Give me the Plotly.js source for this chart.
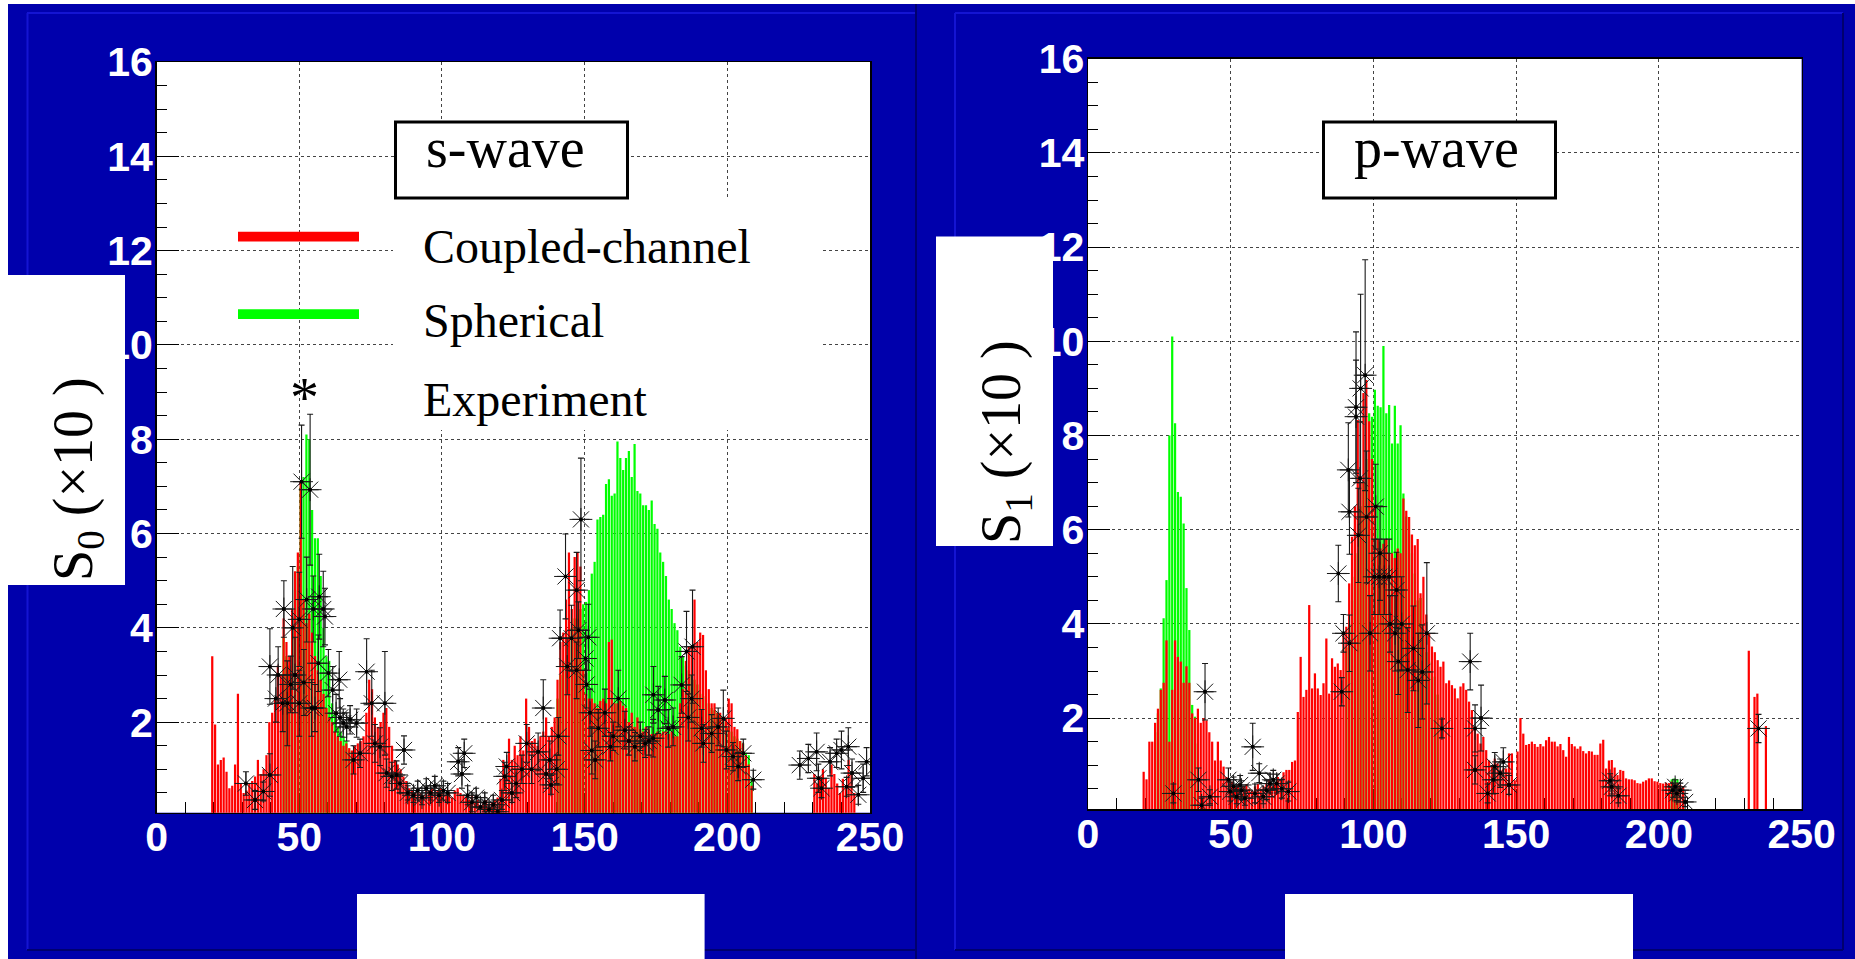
<!DOCTYPE html>
<html><head><meta charset="utf-8">
<script src="https://cdn.plot.ly/plotly-3.0.1.min.js"></script>
<style>html,body{margin:0;padding:0;background:#fff;overflow:hidden}#chart{width:1855px;height:959px}</style>
</head><body><div id="chart"></div>
<script>
// ---------------- DATA ----------------
// Histogram bins are 1 unit wide; each series lists bin contents starting at bin low edge "start".
const xTickVals = [0, 50, 100, 150, 200, 250];
const xTickText = ['0', '50', '100', '150', '200', '250'];
const yTickVals = [2, 4, 6, 8, 10, 12, 14, 16];
const yTickText = ['2', '4', '6', '8', '10', '12', '14', '16'];

// ---- s-wave (left panel) ----
const sCoupledStart = 19;
const sCoupled = [3.4,
 1.95,1.1,1.2,1.25,0.95,0.6,0.65,1.1,2.6,0.7,
 0.5,0.55,0.7,0.75,0.85,1.2,0.9,1.0,1.3,2.0,
 2.2,2.5,3.2,3.0,4.2,3.7,3.4,4.4,5.2,5.6,
 7.1,4.6,4.1,4.3,3.9,3.4,3.1,2.9,2.6,2.3,
 2.1,2.0,1.8,1.7,1.6,1.5,1.55,1.45,1.4,1.5,
 1.55,1.6,1.7,2.2,2.9,2.7,2.1,1.9,2.0,2.2,
 2.3,1.9,1.5,1.2,1.1,1.0,0.85,0.75,0.6,0.55,
 0.5,0.55,0.5,0.45,0.6,0.55,0.6,0.5,0.55,0.6,
 0.5,0.45,0.5,0.4,0.55,0.6,0.5,0.45,0.4,0.35,
 0.45,0.3,0.35,0.25,0.3,0.35,0.25,0.3,0.35,0.4,
 0.8,1.2,0.9,1.65,1.2,1.5,1.3,1.7,1.4,2.5,
 1.9,1.6,1.65,1.5,1.7,1.8,2.1,1.7,1.9,2.1,
 2.9,3.7,3.9,4.6,5.6,4.4,5.5,5.6,5.3,3.1,
 2.6,2.5,2.5,2.4,2.3,2.45,2.5,2.4,3.7,3.75,
 2.4,2.4,2.45,2.35,2.3,2.0,2.2,1.9,2.1,1.85,
 1.8,1.9,1.85,1.75,1.75,1.8,1.75,1.8,1.8,1.75,
 1.8,1.7,1.7,2.4,2.7,3.3,3.6,3.6,4.6,3.7,
 3.9,3.85,3.1,2.7,2.4,2.4,2.2,2.2,2.1,2.1,
 2.5,2.4,1.9,1.85,1.6,1.55,1.3,1.1,0.65];
const sCoupledTailStart = 230;
const sCoupledTail = [0.9,0.7,0.85,1.0,0.8,0.6,1.1,0.9,0.7,0.5,0.8,0.6,1.2,0.9,0.5];
const sSphericalAStart = 44;
const sSphericalA = [3.8,3.4,3.2,4.0,4.8,5.3,
 7.0,7.2,8.1,8.0,6.5,5.9,5.9,5.1,4.0,3.4,
 3.3,2.4,2.2,1.9,1.8,1.7,1.6,1.4];
const sSphericalBStart = 140;
const sSphericalB = [2.5,3.0,3.3,3.6,3.9,4.0,4.2,4.3,4.4,
 4.5,4.55,4.8,5.15,5.4,6.3,6.35,6.4,7.05,7.15,6.8,
 6.85,7.95,7.6,7.35,7.6,7.75,7.2,7.9,6.9,6.85,
 6.6,6.6,6.5,6.7,6.2,6.1,5.6,5.4,5.1,4.6,
 4.4,4.1,3.95,3.6,3.4,3.2,3.1,3.0,2.9,2.8,
 2.6,2.55,2.55,2.4,2.3,2.25,2.2,2.15,2.1,2.0,
 1.9,1.8,1.7,1.65,1.6,1.55,1.35,1.3,0.8];
const sExpX = [31.3,34.5,37.4,39.7,39.7,41.8,42.6,44.2,44.6,45.8,47.0,47.7,48.5,50.0,50.0,50.8,51.6,52.6,53.8,54.3,
 54.9,55.5,56.7,57.0,58.4,59.0,60.2,61.7,62.9,64.0,64.3,65.4,66.6,67.8,69.0,70.1,71.3,73.6,75.4,76.5,
 78.3,80.0,80.6,82.4,84.1,86.7,85.3,88,90,91.5,93,94.5,96,97.5,99,100.5,102,105.7,107.0,107.8,
 109,110.5,112,113.5,115,116.5,118,119.5,121,122,122.7,124.5,126,128,129.7,131.4,133.7,135.5,136.5,137.8,
 138.2,140.2,140.8,141.4,143.3,143.9,145.4,147.2,147.8,147.2,148.7,150.3,151.3,150.7,151.9,152.5,153.7,154.8,157.1,159,
 160,161.8,164.1,165.5,167.6,169.5,171.2,172.5,174.1,174.0,175.8,178.1,179.3,181.0,184.0,185.7,187.8,186.3,187.5,191.0,
 191.6,194.5,196.8,198.6,199.7,202.0,203.8,205.6,209.1,225.4,228.4,231.3,231.9,233.0,236.0,238.3,240.0,242.4,241.8,243.7,
 245.9,247.6,248.8];
const sExpY = [0.7,0.35,0.53,0.88,3.18,2.5,3.0,2.4,4.4,2.4,2.8,4.0,3.0,4.18,2.4,7.1,2.84,4.6,6.93,2.3,
 4.4,2.3,3.25,4.66,4.4,4.24,3.04,2.68,2.19,2.9,2.1,1.98,1.9,2.05,1.2,1.98,1.34,3.07,2.4,1.55,
 1.48,2.4,0.92,0.85,0.88,1.41,0.7,0.5,0.45,0.55,0.4,0.6,0.5,0.65,0.45,0.55,0.5,1.16,0.9,1.34,
 0.45,0.3,0.4,0.2,0.3,0.15,0.25,0.1,0.35,0.85,1.06,0.5,0.7,1.0,1.55,1.0,1.37,2.3,0.9,1.2,
 0.67,1.0,1.7,3.78,5.09,3.18,3.78,4.8,3.95,3.1,6.3,3.35,3.8,2.8,2.2,1.4,1.2,1.87,2.2,1.48,
 1.7,2.5,1.83,1.6,1.48,1.7,1.55,1.6,2.58,1.66,2.26,2.47,1.87,1.9,2.79,3.5,3.6,2.1,2.5,1.87,
 1.55,1.76,1.9,2.08,1.41,1.27,1.06,1.34,0.78,1.09,1.23,1.37,0.81,0.6,1.16,1.34,1.41,1.48,0.63,0.92,
 0.46,0.81,1.16];
const sExpErr = [0.25,0.2,0.2,0.45,0.8,0.5,0.6,0.6,0.6,0.9,0.6,1.3,0.8,1.0,0.7,1.2,0.7,0.9,1.6,0.6,
 0.7,0.5,0.6,0.9,0.8,0.6,0.5,0.5,0.4,0.6,0.4,0.3,0.3,0.3,0.3,0.3,0.3,0.7,0.7,0.4,
 0.4,1.1,0.3,0.3,0.3,0.3,0.2,0.15,0.15,0.2,0.15,0.2,0.15,0.2,0.15,0.2,0.2,0.3,0.3,0.3,
 0.2,0.2,0.2,0.15,0.2,0.15,0.2,0.1,0.2,0.3,0.3,0.2,0.3,0.3,0.4,0.3,0.4,0.6,0.3,0.4,
 0.2,0.3,0.4,0.6,0.9,0.6,0.7,0.8,0.6,0.6,1.3,0.6,0.7,0.5,0.5,0.5,0.4,0.4,0.5,0.3,
 0.3,0.6,0.4,0.3,0.3,0.3,0.3,0.3,0.6,0.4,0.5,0.5,0.4,0.4,0.6,0.85,1.2,0.5,0.5,0.4,
 0.4,0.4,0.4,0.6,0.4,0.3,0.3,0.3,0.2,0.3,0.3,0.4,0.3,0.2,0.3,0.3,0.4,0.4,0.2,0.3,
 0.2,0.3,0.3];

// ---- p-wave (right panel) ----
const pCoupledStart = 19;
const pCoupled = [0.86,
 0.7,1.5,1.5,1.9,2.2,2.6,2.75,3.65,1.5,2.6,
 3.65,3.3,3.2,2.75,3.1,2.75,2.1,2.0,2.2,1.9,
 2.0,1.95,1.7,1.5,1.1,1.5,1.1,0.97,0.75,0.7,
 0.65,0.55,0.6,0.5,0.55,0.6,0.5,0.45,0.55,0.6,
 0.5,0.55,0.6,0.7,0.55,0.6,0.75,0.7,0.85,0.9,
 0.9,1.07,1.1,2.13,3.3,2.45,2.6,4.4,2.63,2.95,
 2.63,2.49,2.74,3.69,2.52,3.27,3.09,3.16,3.02,3.8,
 3.94,4.86,5.85,6.5,8.33,7.0,8.9,9.18,8.3,7.5,
 6.5,5.8,5.6,5.7,5.8,5.5,5.5,5.4,5.6,5.5,
 6.66,6.4,6.27,5.9,5.67,5.8,4.65,5.0,4.2,3.8,
 3.52,3.4,3.23,3.09,3.2,2.74,2.8,2.7,2.63,2.42,
 2.67,2.74,2.6,2.35,2.17,1.82,1.67,1.46,1.6,1.32,
 1.1,1.0,1.14,1.04,0.9,0.93,0.93,1.25,1.25,0.68,
 1.29,2.0,1.67,1.43,1.45,1.5,1.45,1.39,1.45,1.4,
 1.53,1.6,1.5,1.5,1.4,1.45,1.32,1.18,1.6,1.45,
 1.4,1.35,1.4,1.3,1.25,1.3,1.29,1.22,1.22,1.46,
 1.54,0.93,1.1,1.11,0.95,0.79,0.9,0.88,0.72,0.7,
 0.7,0.68,0.62,0.61,0.65,0.68,0.72,0.72,0.66,0.65,
 0.62,0.61,0.63,0.62,0.65,0.6,0.62,0.58,0.55];
const pCoupledTailStart = 231;
const pCoupledTail = [3.43,0,2.45,2.52,0,0,1.83];
const pSphericalAStart = 23;
const pSphericalA = [1.7,2.1,2.63,4.12,4.93,8.0,10.1,8.26,6.8,6.7,6.13,4.76,3.87,2.28,2.03,1.46];
const pSphericalBStart = 90;
const pSphericalB = [3.5,4.0,4.5,5.0,5.5,6.5,7.0,7.5,8.47,8.4,
 8.97,8.63,8.6,9.9,8.47,8.65,7.83,8.63,7.83,8.22,
 6.77,6.28,5.9,5.5,5.07,4.5,4.55,3.73,3.4,3.2,
 3.0,2.88,2.5];
const pSphericalCStart = 204;
const pSphericalC = [0.7,0.72,0.7];
const pExpX = [29.9,38.7,39.8,41.0,42.7,49.2,49.8,51.0,52.1,53.3,53.8,55.0,57.7,58.5,60.0,61.4,62.6,63.8,64.9,66.1,
 67.9,70.2,87.7,88.9,89.5,91.2,91.6,91.6,93.9,93.9,94.7,95.3,95.5,97.1,97.6,98.8,100.8,100.3,102.0,102.3,
 103.8,105.5,105.8,107.6,108.1,108.7,109.9,112.0,114.0,115.7,117.1,118.7,124.0,133.9,135.6,135.6,137.7,140.0,142.0,142.5,
 144.4,145.5,147.5,182.9,183.5,185.8,204.9,205.7,206.3,207.5,209.2,234.9];
const pExpY = [0.4,0.69,0.15,2.56,0.33,0.69,0.44,0.55,0.33,0.58,0.47,0.3,1.39,0.4,0.83,0.33,0.47,0.61,0.69,0.61,
 0.5,0.44,5.07,2.56,3.8,7.27,6.38,3.59,8.6,8.4,5.88,7.09,9.0,9.28,6.27,3.8,6.49,5.0,5.0,5.5,
 5.0,5.0,4.0,3.8,4.72,3.2,4.0,3.02,3.48,2.8,2.98,3.8,1.78,3.2,1.78,0.9,2.0,0.4,0.69,0.97,
 0.83,1.07,0.58,0.67,0.54,0.35,0.47,0.54,0.4,0.47,0.22,1.78];
const pExpErr = [0.2,0.25,0.15,0.6,0.15,0.25,0.2,0.2,0.15,0.2,0.2,0.15,0.5,0.2,0.2,0.15,0.2,0.2,0.2,0.2,
 0.2,0.2,0.6,0.3,0.4,1.0,0.9,0.6,1.6,1.2,1.0,1.2,2.0,2.45,1.4,0.8,0.9,0.8,0.8,1.0,
 0.8,0.8,0.6,0.8,0.8,0.7,1.0,0.9,0.9,1.0,1.0,1.5,0.2,0.6,0.5,0.3,0.7,0.2,0.3,0.3,
 0.3,0.3,0.2,0.15,0.15,0.15,0.15,0.15,0.15,0.15,0.1,0.3];
const expXErr = 3;

// ---------------- STYLE / LAYOUT ----------------
const W = 1855, H = 959;
const px = x => x / W;
const py = y => 1 - y / H;
const RED = '#FF0000', GREEN = '#00FF00', BLUE = '#0000AC', MARK = '#1a1a1a';
const SERIF = 'Liberation Serif, Times New Roman, serif';
const SANS = 'Liberation Sans, Arial, Helvetica, sans-serif';

function bars(start, vals, color, name, xa, ya) {
  return {type: 'bar', name: name, x0: start + 0.5, dx: 1, y: vals, xaxis: xa, yaxis: ya,
    marker: {color: color, line: {width: 0}}, showlegend: false, hoverinfo: 'skip'};
}
function exp(xs, ys, errs, xa, ya) {
  return [{type: 'scatter', mode: 'markers', name: 'Experiment', x: xs, y: ys, xaxis: xa, yaxis: ya,
    marker: {symbol: 'asterisk-open', size: 19, color: MARK, line: {color: MARK, width: 1}},
    error_y: {type: 'data', array: errs, visible: true, color: MARK, thickness: 1.1, width: 3},
    error_x: {type: 'constant', value: expXErr, visible: true, color: MARK, thickness: 1.1, width: 0},
    showlegend: false, hoverinfo: 'skip'},
   {type: 'scatter', mode: 'markers', name: 'Experiment', x: xs, y: ys, xaxis: xa, yaxis: ya,
    marker: {symbol: 'circle', size: 4, color: '#000'}, showlegend: false, hoverinfo: 'skip'}];
}

const data = [
  bars(sSphericalAStart, sSphericalA, GREEN, 'Spherical', 'x', 'y'),
  bars(sSphericalBStart, sSphericalB, GREEN, 'Spherical', 'x', 'y'),
  bars(sCoupledStart, sCoupled, RED, 'Coupled-channel', 'x', 'y'),
  bars(sCoupledTailStart, sCoupledTail, RED, 'Coupled-channel', 'x', 'y'),
  ...exp(sExpX, sExpY, sExpErr, 'x', 'y'),
  bars(pSphericalAStart, pSphericalA, GREEN, 'Spherical', 'x2', 'y2'),
  bars(pSphericalBStart, pSphericalB, GREEN, 'Spherical', 'x2', 'y2'),
  bars(pSphericalCStart, pSphericalC, GREEN, 'Spherical', 'x2', 'y2'),
  bars(pCoupledStart, pCoupled, RED, 'Coupled-channel', 'x2', 'y2'),
  bars(pCoupledTailStart, pCoupledTail, RED, 'Coupled-channel', 'x2', 'y2'),
  ...exp(pExpX, pExpY, pExpErr, 'x2', 'y2')
];

const tickFont = {family: SANS, size: 41, color: '#FFFFFF', weight: 'bold'};
function xAxis(dom, anchor) {
  return {domain: dom, anchor: anchor, range: [0, 250], tickmode: 'array', tickvals: xTickVals, ticktext: xTickText,
    ticks: 'inside', ticklen: 20, tickwidth: 1, tickcolor: '#000', tickfont: tickFont,
    minor: {dtick: 10, tick0: 0, ticks: 'inside', ticklen: 11, tickcolor: '#000', tickwidth: 1, showgrid: false},
    showgrid: true, gridcolor: '#444', griddash: 'dot', gridwidth: 1,
    showline: true, linecolor: '#000', linewidth: 1.5, mirror: true, zeroline: false,
    ticklabelstandoff: -12, layer: 'below traces', fixedrange: true};
}
function yAxis(dom, anchor, ymin) {
  return {domain: dom, anchor: anchor, range: [ymin, 16], tickmode: 'array', tickvals: yTickVals, ticktext: yTickText,
    ticks: 'inside', ticklen: 22, tickwidth: 1, tickcolor: '#000', tickfont: tickFont,
    minor: {dtick: 0.5, tick0: 0, ticks: 'inside', ticklen: 10, tickcolor: '#000', tickwidth: 1, showgrid: false},
    showgrid: true, gridcolor: '#444', griddash: 'dot', gridwidth: 1,
    showline: true, linecolor: '#000', linewidth: 1.5, mirror: true, zeroline: false,
    ticklabelstandoff: -6, fixedrange: true};
}

function rect(x0, y0, x1, y1, fill, lineColor, lineWidth) {
  return {type: 'rect', xref: 'paper', yref: 'paper', x0: px(x0), x1: px(x1), y0: py(y1), y1: py(y0),
    fillcolor: fill, line: {color: lineColor || fill, width: lineWidth || 0}, layer: 'above'};
}
function hline(x0, x1, y, color, w) {
  return {type: 'line', xref: 'paper', yref: 'paper', x0: px(x0), x1: px(x1), y0: py(y), y1: py(y),
    line: {color: color, width: w}, layer: 'above'};
}
function vline(x, y0, y1, color, w) {
  return {type: 'line', xref: 'paper', yref: 'paper', x0: px(x), x1: px(x), y0: py(y0), y1: py(y1),
    line: {color: color, width: w}, layer: 'above'};
}
const LIGHT = '#1414D2', DARK = '#00006E';
const shapes = [
  rect(0, 0, W, 4, '#FFFFFF'),
  rect(0, 0, 8, H, '#FFFFFF'),
  // pad bevels
  hline(27, 916, 13, LIGHT, 2), vline(27.5, 13, 950, LIGHT, 2),
  hline(27, 916, 950, DARK, 2), vline(916, 4, H, DARK, 2),
  hline(955, 1843, 13, LIGHT, 2), vline(955, 13, 950, LIGHT, 2),
  hline(955, 1843, 950, DARK, 2), vline(1843, 13, 950, DARK, 2),
  // white label boxes
  rect(8, 275, 125, 585, '#FFFFFF'),
  rect(936, 236.5, 1053, 546, '#FFFFFF'),
  rect(357, 894, 704.6, H, '#FFFFFF'),
  rect(1285, 894, 1633, H, '#FFFFFF'),
  // legend area
  rect(393, 199, 821.5, 430, '#FFFFFF'),
  rect(395.5, 122, 627.5, 198, '#FFFFFF', '#000000', 3),
  rect(1323.5, 122, 1555.5, 198, '#FFFFFF', '#000000', 3),
  rect(238, 231.7, 359, 241.5, RED),
  rect(238, 309.3, 359, 319, GREEN)
];

const annotations = [
  {text: 's-wave', x: px(505), y: py(148), xref: 'paper', yref: 'paper', showarrow: false,
   xanchor: 'center', yanchor: 'middle', font: {family: SERIF, size: 56, color: '#000'}},
  {text: 'p-wave', x: px(1436), y: py(148), xref: 'paper', yref: 'paper', showarrow: false,
   xanchor: 'center', yanchor: 'middle', font: {family: SERIF, size: 56, color: '#000'}},
  {text: 'Coupled-channel', x: px(421), y: py(246), xref: 'paper', yref: 'paper', showarrow: false,
   xanchor: 'left', yanchor: 'middle', font: {family: SERIF, size: 48, color: '#000'}},
  {text: 'Spherical', x: px(421), y: py(321), xref: 'paper', yref: 'paper', showarrow: false,
   xanchor: 'left', yanchor: 'middle', font: {family: SERIF, size: 48, color: '#000'}},
  {text: 'Experiment', x: px(421), y: py(400), xref: 'paper', yref: 'paper', showarrow: false,
   xanchor: 'left', yanchor: 'middle', font: {family: SERIF, size: 48, color: '#000'}},
  {text: '*', x: px(304), y: py(398), xref: 'paper', yref: 'paper', showarrow: false,
   xanchor: 'center', yanchor: 'middle', font: {family: SERIF, size: 58, color: '#000'}},
  {text: 'S<sub>0</sub> (×10 )', x: px(77), y: py(479), xref: 'paper', yref: 'paper', showarrow: false,
   textangle: -90, xanchor: 'center', yanchor: 'middle', font: {family: SERIF, size: 56, color: '#000'}},
  {text: 'S<sub>1</sub> (×10 )', x: px(1005), y: py(442), xref: 'paper', yref: 'paper', showarrow: false,
   textangle: -90, xanchor: 'center', yanchor: 'middle', font: {family: SERIF, size: 56, color: '#000'}}
];

const layout = {
  width: W, height: H, autosize: false,
  margin: {l: 0, r: 0, t: 0, b: 0, pad: 0},
  paper_bgcolor: BLUE, plot_bgcolor: '#FFFFFF',
  showlegend: false, barmode: 'overlay', bargap: 0.22,
  xaxis: xAxis([px(156.6), px(870)], 'y'),
  yaxis: yAxis([py(812.7), py(62)], 'x', 0.08),
  xaxis2: xAxis([px(1088), px(1801.6)], 'y2'),
  yaxis2: yAxis([py(809), py(58.7)], 'x2', 0.07),
  shapes: shapes,
  annotations: annotations
};

Plotly.newPlot('chart', data, layout, {staticPlot: true, displayModeBar: false});
</script></body></html>
